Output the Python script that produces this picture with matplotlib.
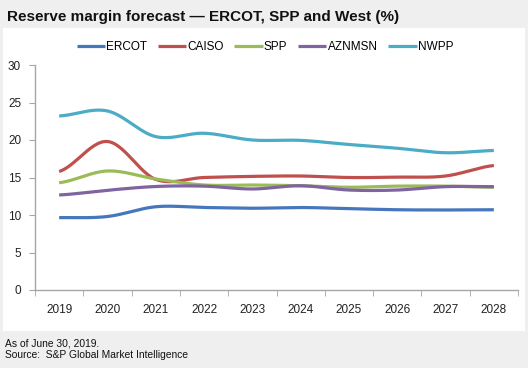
import numpy as np
import matplotlib
matplotlib.use("Agg")
import matplotlib.pyplot as plt
from matplotlib.patches import Rectangle

years = ["2019", "2020", "2021", "2022", "2023", "2024", "2025", "2026", "2027", "2028"]
ercot = [9.65, 9.8, 11.1, 11.0, 10.9, 11.0, 10.85, 10.7, 10.67, 10.7]
caiso = [15.8, 19.8, 14.75, 15.0, 15.15, 15.2, 15.0, 15.05, 15.2, 16.6]
spp = [14.3, 15.87, 14.8, 14.0, 14.0, 13.9, 13.7, 13.85, 13.85, 13.7]
aznmsn = [12.67, 13.3, 13.8, 13.85, 13.47, 13.9, 13.33, 13.33, 13.78, 13.78]
nwpp = [23.2, 23.87, 20.45, 20.9, 20.0, 19.95, 19.4, 18.9, 18.3, 18.6]

series = [("ERCOT", ercot, "#4677bd"),
          ("CAISO", caiso, "#c0504d"),
          ("SPP", spp, "#9bbb59"),
          ("AZNMSN", aznmsn, "#8064a2"),
          ("NWPP", nwpp, "#4bacc6")]

plt.rcParams['font.family'] = ['Liberation Sans', 'DejaVu Sans']


def smooth(x, y, n=30):
    # Catmull-Rom style smoothing (like Excel smoothed lines)
    x = np.asarray(x, float)
    y = np.asarray(y, float)
    px = np.concatenate([[2 * x[0] - x[1]], x, [2 * x[-1] - x[-2]]])
    py = np.concatenate([[y[0]], y, [y[-1]]])
    xs, ys = [], []
    for i in range(1, len(px) - 2):
        p0, p1, p2, p3 = (np.array([px[j], py[j]]) for j in range(i - 1, i + 3))
        c1 = p1 + (p2 - p0) / 6.0
        c2 = p2 - (p3 - p1) / 6.0
        t = np.linspace(0, 1, n)[:, None]
        b = ((1 - t) ** 3) * p1 + 3 * ((1 - t) ** 2) * t * c1 + 3 * (1 - t) * t ** 2 * c2 + t ** 3 * p2
        xs.append(b[:, 0])
        ys.append(b[:, 1])
    return np.concatenate(xs), np.concatenate(ys)


fig = plt.figure(figsize=(5.28, 3.68), dpi=100)
fig.patch.set_facecolor("#efefef")
W, H = 528, 368
fig.patches.append(Rectangle((3 / W, 1 - 331 / H), (525 - 3) / W, (331 - 28) / H,
                             transform=fig.transFigure, facecolor="white", edgecolor="none", zorder=-5))

ax = fig.add_axes([35 / W, 1 - 290 / H, (518 - 35) / W, (290 - 65) / H])
ax.set_zorder(2)
ax.set_facecolor("none")
x = np.arange(len(years))
for name, vals, col in series:
    sx, sy = smooth(x, vals)
    ax.plot(sx, sy, color=col, lw=2.3, label=name, solid_capstyle="butt")

ax.set_xlim(-0.5, len(years) - 0.5)
ax.set_ylim(0, 30)
ax.set_yticks([0, 5, 10, 15, 20, 25, 30])
ax.set_xticks(x)
ax.set_xticklabels(years)
ax.set_xticks(np.arange(-0.5, len(years), 1.0), minor=True)
ax.tick_params(axis="x", which="major", length=0, pad=10, labelsize=8.5, colors="#222222")
ax.tick_params(axis="x", which="minor", length=4, color="#a6a6a6", direction="out")
ax.tick_params(axis="y", length=4, color="#a6a6a6", labelsize=8.5, colors="#222222", pad=6)
for s in ["top", "right"]:
    ax.spines[s].set_visible(False)
for s in ["left", "bottom"]:
    ax.spines[s].set_color("#a6a6a6")
    ax.spines[s].set_linewidth(1.0)

leg = ax.legend(loc="center", bbox_to_anchor=(265 / W, 1 - 47 / H), bbox_transform=fig.transFigure,
                ncol=5, frameon=False, fontsize=8.5, handlelength=2.4, handletextpad=0.1,
                columnspacing=0.9)

fig.text(7 / W, 1 - 17 / H, "Reserve margin forecast \u2014 ERCOT, SPP and West (%)",
         fontsize=11.0, fontweight="bold", va="center", ha="left", color="#111111")
fig.text(5 / W, 1 - 344 / H, "As of June 30, 2019.", fontsize=7.4, va="center", ha="left", color="#111111")
fig.text(5 / W, 1 - 355 / H, "Source:  S&P Global Market Intelligence", fontsize=7.4, va="center", ha="left",
         color="#111111")

fig.savefig("out.png", dpi=100, facecolor=fig.get_facecolor())
